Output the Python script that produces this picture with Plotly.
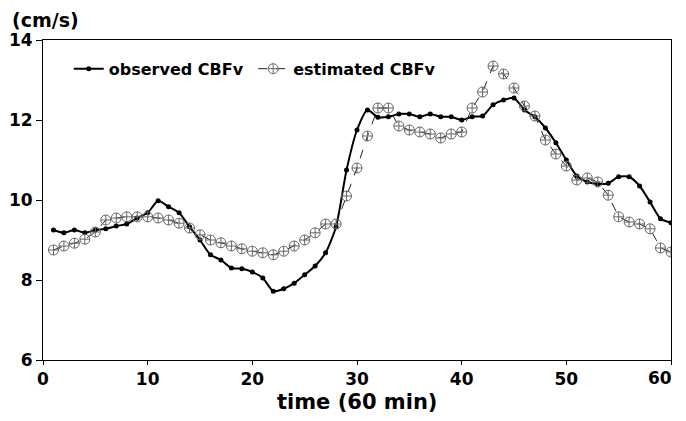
import plotly.graph_objects as go

minutes = list(range(1, 61))

observed_cbfv = [
    9.25, 9.18, 9.25, 9.18, 9.25, 9.28, 9.35, 9.40, 9.55, 9.68,
    9.98, 9.83, 9.68, 9.33, 9.00, 8.63, 8.50, 8.30, 8.28, 8.20,
    8.05, 7.72, 7.78, 7.92, 8.13, 8.35, 8.68, 9.33, 10.75, 11.75,
    12.25, 12.07, 12.08, 12.15, 12.15, 12.08, 12.15, 12.08, 12.08, 12.00,
    12.08, 12.10, 12.38, 12.50, 12.55, 12.25, 12.08, 11.80, 11.43, 11.00,
    10.60, 10.45, 10.40, 10.42, 10.58, 10.58, 10.35, 9.95, 9.53, 9.43,
]

estimated_cbfv = [
    8.75, 8.85, 8.92, 9.02, 9.20, 9.50, 9.55, 9.58, 9.58, 9.58,
    9.55, 9.50, 9.42, 9.30, 9.13, 9.00, 8.93, 8.85, 8.78, 8.72,
    8.68, 8.63, 8.72, 8.85, 9.00, 9.18, 9.40, 9.40, 10.10, 10.80,
    11.60, 12.30, 12.30, 11.85, 11.75, 11.70, 11.65, 11.55, 11.65, 11.70,
    12.30, 12.70, 13.35, 13.15, 12.80, 12.35, 12.10, 11.50, 11.15, 10.85,
    10.50, 10.55, 10.45, 10.12, 9.58, 9.45, 9.40, 9.28, 8.80, 8.70,
]

x_ticks = [0, 10, 20, 30, 40, 50, 60]
x_tick_labels = ["0", "10", "20", "30", "40", "50", "60"]
y_ticks = [6, 8, 10, 12, 14]

FONT = "DejaVu Sans, Verdana, sans-serif"

fig = go.Figure()

fig.add_trace(go.Scatter(
    x=minutes, y=observed_cbfv, name="<b>observed CBFv</b>&nbsp;",
    mode="lines+markers",
    line=dict(color="black", width=2, shape="spline", smoothing=0.6),
    marker=dict(symbol="circle", size=5, color="black"),
))

fig.add_trace(go.Scatter(
    x=minutes, y=estimated_cbfv, name="<b>estimated CBFv</b>",
    mode="lines+markers",
    line=dict(color="#222222", width=1, dash="dash"),
    marker=dict(symbol="circle-cross-open", size=10, color="#666666",
                line=dict(width=1, color="#666666")),
))

# the last x tick label is drawn right-aligned at its tick so it stays on the page
x_ticktext = [f"<b>{t}</b>" for t in x_tick_labels[:-1]] + [""]

# page body has an 8px default margin, so the figure is sized to compensate
fig.update_layout(
    width=678, height=413,
    margin=dict(l=35, r=15, t=32, b=61),
    paper_bgcolor="white", plot_bgcolor="white",
    font=dict(family=FONT, color="black"),
    showlegend=True,
    legend=dict(
        orientation="h", x=0.041, y=0.91, xanchor="left", yanchor="middle",
        font=dict(size=16, family=FONT, color="black"),
        bgcolor="rgba(0,0,0,0)", itemwidth=30,
    ),
    annotations=[
        dict(
            text="<b>(cm/s)</b>", xref="paper", yref="paper",
            x=-0.053, y=1.063, xanchor="left", yanchor="middle",
            showarrow=False, font=dict(size=19, family=FONT, color="black"),
        ),
        dict(
            text="<b>time (60 min)</b>", xref="paper", yref="paper",
            x=0.5, y=-0.131, xanchor="center", yanchor="middle",
            showarrow=False, font=dict(size=21, family=FONT, color="black"),
        ),
        dict(
            text=f"<b>{x_tick_labels[-1]}</b>", xref="x", yref="paper",
            x=x_ticks[-1], y=-0.056, xanchor="right", yanchor="middle",
            xshift=3, showarrow=False,
            font=dict(size=17, family=FONT, color="black"),
        ),
    ],
)

fig.update_xaxes(
    range=[0, 60], tickvals=x_ticks, ticktext=x_ticktext,
    showgrid=False, zeroline=False, automargin=False,
    showline=True, linecolor="black", linewidth=1, mirror=True,
    ticks="outside", ticklen=4, tickcolor="black",
    tickfont=dict(size=17, family=FONT, color="black"),
)

fig.update_yaxes(
    range=[6, 14], tickvals=y_ticks, ticktext=[f"<b>{v}</b>" for v in y_ticks],
    showgrid=False, zeroline=False, automargin=False,
    showline=True, linecolor="black", linewidth=1, mirror=True,
    ticks="outside", ticklen=6, tickcolor="black",
    tickfont=dict(size=17, family=FONT, color="black"),
)

fig.write_html("out.html")
